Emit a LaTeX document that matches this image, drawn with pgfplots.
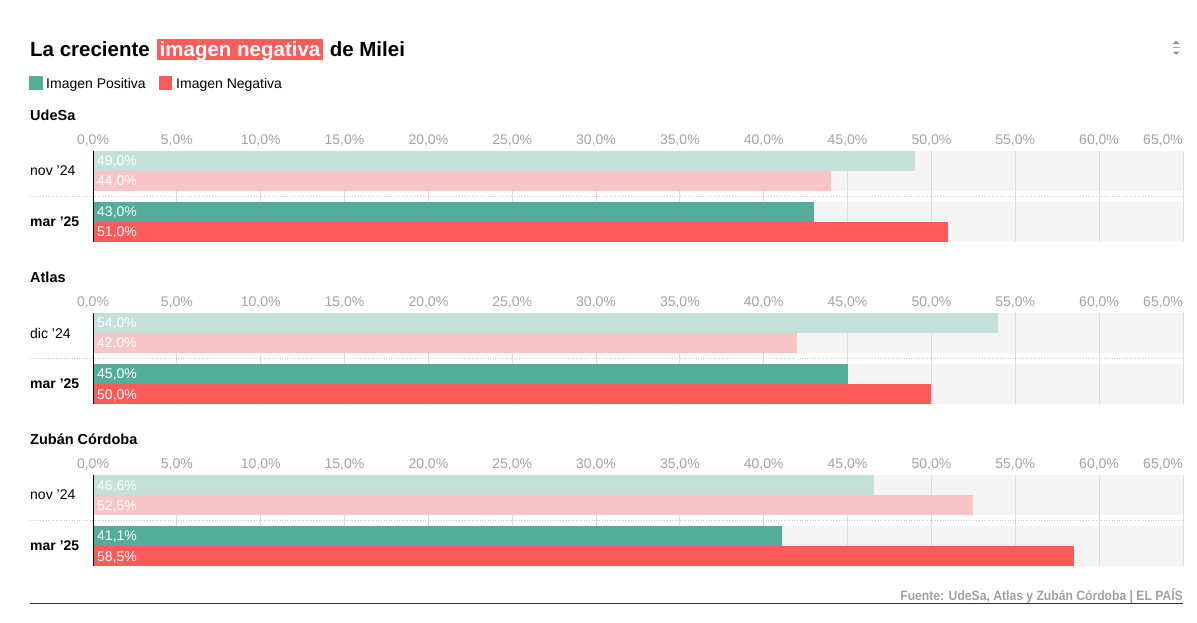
\documentclass[border=0pt]{standalone}
\usepackage{pgfplots}
\pgfplotsset{compat=1.18}
\usepackage{fontspec}
\setmainfont{Liberation Sans}
\newfontfamily\footfont[FakeStretch=0.9]{Liberation Sans}
\definecolor{posD}{HTML}{52AE9A}
\definecolor{negD}{HTML}{FF5A5A}
\definecolor{posL}{HTML}{C4E0DA}
\definecolor{negL}{HTML}{F7C5C5}
\definecolor{bgc}{HTML}{F4F4F4}
\definecolor{gridc}{HTML}{DCDCDC}
\definecolor{tickc}{HTML}{A3A3A3}
\definecolor{footc}{HTML}{A0A0A0}
\definecolor{sepc}{HTML}{C8C8C8}
\newcommand\fs[1]{\fontsize{#1}{#1}\selectfont}
\pgfplotsset{
  panel/.style={
    scale only axis, width=1090pt, height=91pt,
    anchor=north west,
    xmin=0, xmax=65, ymin=-0.392157, ymax=1.392157,
    xtick={0,5,...,65},
    xticklabels={{0,0\%},{5,0\%},{10,0\%},{15,0\%},{20,0\%},{25,0\%},{30,0\%},{35,0\%},{40,0\%},{45,0\%},{50,0\%},{55,0\%},{60,0\%},{\hbox to 0pt{\hss 65,0\%}}},
    xticklabel pos=upper,
    xticklabel style={anchor=base, inner sep=0pt, yshift=7pt, text=tickc, font=\fs{14}},
    ytick={0,1},
    yticklabel style={anchor=west, inner sep=0pt, xshift=-63pt, font=\fs{14}, text=black},
    major tick length=0pt,
    tick style={draw=none},
    xmajorgrids, major grid style={draw=gridc, line width=0.8pt},
    axis line style={draw=none},
    set layers, clip=false,
    /pgf/number format/assume math mode=true,
  },
  bg/.style={xbar, bar width=40pt, bar shift=0pt, fill=bgc, draw=none, on layer=axis background, forget plot},
  val/.style 2 args={xbar, bar width=20pt, bar shift=#1, fill=#2, draw=none, forget plot},
  lab/.style={only marks, mark=none, forget plot, point meta=explicit,
    nodes near coords={\pgfmathprintnumber[fixed,fixed zerofill,precision=1,use comma]{\pgfplotspointmeta}\%},
    every node near coord/.append style={anchor=west, inner sep=0pt, text=white, font=\fs{14}, xshift=4pt, yshift=#1}},
}
\begin{document}
\begin{tikzpicture}
\begin{scope}[x=1pt,y=1pt]
% title
\node[anchor=base west, inner sep=0pt, font=\fs{20.5}\bfseries] (t1) at (30,-56) {La creciente};
\node[anchor=base west, inner xsep=3pt, inner ysep=0pt, text height=17pt, text depth=4pt, fill=negD, text=white, font=\fs{20.5}\bfseries] (t2) at ([xshift=6.5pt]t1.base east) {imagen negativa};
\node[anchor=base west, inner sep=0pt, font=\fs{20.5}\bfseries] at ([xshift=6pt]t2.base east) {de Milei};
% icon
\fill[gray!85] (1172.5,-44) -- (1176,-40.5) -- (1179.5,-44) -- cycle;
\draw[gray!70, line width=0.8pt] (1172.5,-47.5) -- (1179.5,-47.5);
\fill[gray!85] (1172.5,-51.5) -- (1176,-55) -- (1179.5,-51.5) -- cycle;
% legend
\fill[posD] (29,-76) rectangle (42.5,-89.5);
\node[anchor=base west, inner sep=0pt, font=\fs{14}] at (46,-88) {Imagen Positiva};
\fill[negD] (158.5,-76) rectangle (172,-89.5);
\node[anchor=base west, inner sep=0pt, font=\fs{14}] at (176,-88) {Imagen Negativa};
% headers
\node[anchor=base west, inner sep=0pt, font=\fs{14.5}\bfseries] at (30,-120) {UdeSa};
\node[anchor=base west, inner sep=0pt, font=\fs{14.5}\bfseries] at (30,-282) {Atlas};
\node[anchor=base west, inner sep=0pt, font=\fs{14.5}\bfseries] at (30,-444) {Zubán Córdoba};
% footer
\node[anchor=base east, inner sep=0pt, font=\footfont\fs{13.5}\bfseries, text=footc] at (1183,-600) {Fuente: UdeSa, Atlas y Zubán Córdoba | EL PAÍS};
\draw[black!80, line width=1pt] (30,-603.5) -- (1183,-603.5);
\end{scope}

% Panel 1: UdeSa
\begin{axis}[panel, at={(93pt,-151pt)}, yticklabels={\textbf{mar ’25}, nov ’24}]
\addplot[bg] coordinates {(65,0) (65,1)};
\addplot[val={10pt}{posL}] coordinates {(49.0,1)};
\addplot[val={-10pt}{negL}] coordinates {(44.0,1)};
\addplot[val={10pt}{posD}] coordinates {(43.0,0)};
\addplot[val={-10pt}{negD}] coordinates {(51.0,0)};
\addplot[lab=9pt] coordinates {(0,1) [49.0] (0,0) [43.0]};
\addplot[lab=-11pt] coordinates {(0,1) [44.0] (0,0) [51.0]};
\draw[black, line width=1pt] (rel axis cs:0,0) -- (rel axis cs:0,1);
\draw[sepc, dotted, line width=0.6pt] ([xshift=-63pt]axis cs:0,0.5098) -- (axis cs:65,0.5098);
\end{axis}

% Panel 2: Atlas
\begin{axis}[panel, at={(93pt,-313pt)}, yticklabels={\textbf{mar ’25}, dic ’24}]
\addplot[bg] coordinates {(65,0) (65,1)};
\addplot[val={10pt}{posL}] coordinates {(54.0,1)};
\addplot[val={-10pt}{negL}] coordinates {(42.0,1)};
\addplot[val={10pt}{posD}] coordinates {(45.0,0)};
\addplot[val={-10pt}{negD}] coordinates {(50.0,0)};
\addplot[lab=9pt] coordinates {(0,1) [54.0] (0,0) [45.0]};
\addplot[lab=-11pt] coordinates {(0,1) [42.0] (0,0) [50.0]};
\draw[black, line width=1pt] (rel axis cs:0,0) -- (rel axis cs:0,1);
\draw[sepc, dotted, line width=0.6pt] ([xshift=-63pt]axis cs:0,0.5098) -- (axis cs:65,0.5098);
\end{axis}

% Panel 3: Zuban Cordoba
\begin{axis}[panel, at={(93pt,-475pt)}, yticklabels={\textbf{mar ’25}, nov ’24}]
\addplot[bg] coordinates {(65,0) (65,1)};
\addplot[val={10pt}{posL}] coordinates {(46.6,1)};
\addplot[val={-10pt}{negL}] coordinates {(52.5,1)};
\addplot[val={10pt}{posD}] coordinates {(41.1,0)};
\addplot[val={-10pt}{negD}] coordinates {(58.5,0)};
\addplot[lab=9pt] coordinates {(0,1) [46.6] (0,0) [41.1]};
\addplot[lab=-11pt] coordinates {(0,1) [52.5] (0,0) [58.5]};
\draw[black, line width=1pt] (rel axis cs:0,0) -- (rel axis cs:0,1);
\draw[sepc, dotted, line width=0.6pt] ([xshift=-63pt]axis cs:0,0.5098) -- (axis cs:65,0.5098);
\end{axis}
\pgfresetboundingbox
\path[use as bounding box] (0pt,0pt) rectangle (1197pt,-622pt);
\end{tikzpicture}
\end{document}
